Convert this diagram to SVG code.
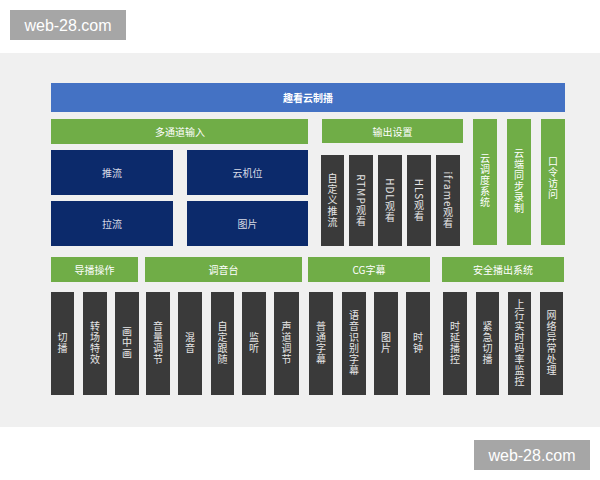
<svg xmlns="http://www.w3.org/2000/svg" width="600" height="480" viewBox="0 0 600 480">
<style>
text{font-family:"Noto Sans CJK SC","Noto Sans",sans-serif;text-anchor:middle}
.h{dominant-baseline:central}
.wm{fill:#a6a6a6}
.wmt{font-family:"Liberation Sans",Arial,sans-serif;fill:#ffffff;font-size:16px}
.blue{fill:#4472c4}
.green{fill:#70ad47}
.navy{fill:#0c2a6b}
.dark{fill:#3a3a3a}
.lt{fill:#ffffff;font-size:10px}
.nt{fill:#d8dbe6;font-size:10px}
.vt{fill:#e6e6e6;font-size:10px;writing-mode:vertical-rl;text-orientation:mixed;letter-spacing:1px}
.vg{fill:#ffffff;font-size:10px;writing-mode:vertical-rl;text-orientation:mixed;letter-spacing:1px}
</style>
<rect x="0" y="0" width="600" height="480" fill="#ffffff"/>
<rect x="0" y="53" width="600" height="374" fill="#f0f0f0"/>
<g id="watermark-top"><rect class="wm" x="10" y="10" width="116" height="30"/><text class="wmt h" x="68" y="25">web-28.com</text></g>
<g id="watermark-bottom"><rect class="wm" x="474" y="440" width="116" height="30"/><text class="wmt h" x="532" y="455">web-28.com</text></g>
<g id="title"><rect class="blue" x="51" y="83" width="514" height="29"/><text class="lt h" x="308" y="97.5" font-weight="bold">趣看云制播</text></g>
<g id="multi-input"><rect class="green" x="51" y="119" width="257" height="25"/><text class="lt h" x="180" y="131.5">多通道输入</text></g>
<g id="push"><rect class="navy" x="51" y="150" width="122" height="45"/><text class="nt h" x="112" y="172.5">推流</text></g>
<g id="cloud-cam"><rect class="navy" x="187" y="150" width="121" height="45"/><text class="nt h" x="247.5" y="172.5">云机位</text></g>
<g id="pull"><rect class="navy" x="51" y="201" width="122" height="45"/><text class="nt h" x="112" y="223.5">拉流</text></g>
<g id="image-in"><rect class="navy" x="187" y="201" width="121" height="45"/><text class="nt h" x="247.5" y="223.5">图片</text></g>
<g id="output-settings"><rect class="green" x="322" y="119" width="141" height="24"/><text class="lt h" x="392.5" y="131">输出设置</text></g>
<g id="out-custom"><rect class="dark" x="321" y="155" width="23" height="91"/><text class="vt" x="332.5" y="200.5">自定义推流</text></g>
<g id="out-rtmp"><rect class="dark" x="349" y="155" width="24" height="91"/><text class="vt" x="361" y="200.5">RTMP观看</text></g>
<g id="out-hdl"><rect class="dark" x="378" y="155" width="24" height="91"/><text class="vt" x="390" y="200.5">HDL观看</text></g>
<g id="out-hls"><rect class="dark" x="407" y="155" width="24" height="91"/><text class="vt" x="419" y="200.5">HLS观看</text></g>
<g id="out-iframe"><rect class="dark" x="436" y="155" width="24" height="91"/><text class="vt" x="448" y="200.5">iframe观看</text></g>
<g id="cloud-dispatch"><rect class="green" x="473" y="119" width="24" height="126"/><text class="vg" x="485" y="181">云调度系统</text></g>
<g id="cloud-record"><rect class="green" x="507" y="119" width="24" height="126"/><text class="vg" x="519" y="181">云端同步录制</text></g>
<g id="passcode"><rect class="green" x="541" y="119" width="24" height="126"/><text class="vg" x="553" y="178">口令访问</text></g>
<g id="director"><rect class="green" x="51" y="257" width="87" height="25"/><text class="lt h" x="94.5" y="269.5">导播操作</text></g>
<g id="mixer"><rect class="green" x="145" y="257" width="157" height="25"/><text class="lt h" x="223.5" y="269.5">调音台</text></g>
<g id="cg"><rect class="green" x="308" y="257" width="122" height="25"/><text class="lt h" x="369" y="269.5">CG字幕</text></g>
<g id="safety"><rect class="green" x="442" y="257" width="122" height="25"/><text class="lt h" x="503" y="269.5">安全播出系统</text></g>
<g id="b-switch"><rect class="dark" x="51" y="292" width="23" height="103"/><text class="vt" x="62.5" y="343">切播</text></g>
<g id="b-transition"><rect class="dark" x="83" y="292" width="24" height="103"/><text class="vt" x="95" y="343">转场特效</text></g>
<g id="b-pip"><rect class="dark" x="115" y="292" width="24" height="103"/><text class="vt" x="127" y="343">画中画</text></g>
<g id="b-volume"><rect class="dark" x="146" y="292" width="24" height="103"/><text class="vt" x="158" y="343">音量调节</text></g>
<g id="b-mix"><rect class="dark" x="178" y="292" width="24" height="103"/><text class="vt" x="190" y="343">混音</text></g>
<g id="b-follow"><rect class="dark" x="211" y="292" width="23" height="103"/><text class="vt" x="222.5" y="343">自定跟随</text></g>
<g id="b-monitor"><rect class="dark" x="242" y="292" width="24" height="103"/><text class="vt" x="254" y="343">监听</text></g>
<g id="b-channel"><rect class="dark" x="274" y="292" width="25" height="103"/><text class="vt" x="286.5" y="343">声道调节</text></g>
<g id="b-subtitle"><rect class="dark" x="309" y="292" width="24" height="103"/><text class="vt" x="321" y="343">普通字幕</text></g>
<g id="b-asr"><rect class="dark" x="342" y="292" width="24" height="103"/><text class="vt" x="354" y="343">语音识别字幕</text></g>
<g id="b-image"><rect class="dark" x="374" y="292" width="24" height="103"/><text class="vt" x="386" y="343">图片</text></g>
<g id="b-clock"><rect class="dark" x="406" y="292" width="24" height="103"/><text class="vt" x="418" y="343">时钟</text></g>
<g id="b-delay"><rect class="dark" x="443" y="292" width="24" height="103"/><text class="vt" x="455" y="343">时延播控</text></g>
<g id="b-emergency"><rect class="dark" x="476" y="292" width="23" height="103"/><text class="vt" x="487.5" y="343">紧急切播</text></g>
<g id="b-bitrate"><rect class="dark" x="508" y="292" width="23" height="103"/><text class="vt" x="519.5" y="343">上行实时码率监控</text></g>
<g id="b-network"><rect class="dark" x="540" y="292" width="23" height="103"/><text class="vt" x="551.5" y="343">网络异常处理</text></g>
<g id="connectors"></g>
</svg>
